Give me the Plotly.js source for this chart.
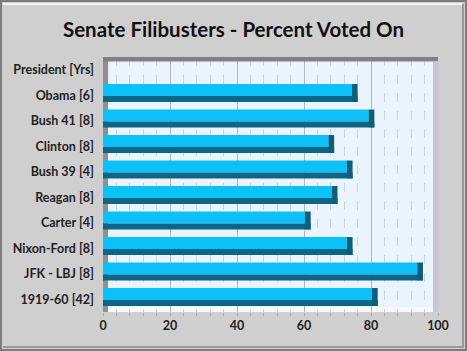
<!DOCTYPE html>
<html><head><meta charset="utf-8">
<script src="https://cdn.plot.ly/plotly-3.0.1.min.js"></script>
<style>html,body{margin:0;padding:0;background:#cfcfcf}#c{width:467px;height:351px}</style>
</head><body><div id="c"></div>
<script>
// categories listed bottom to top
const categories = ["1919-60 [42]","JFK - LBJ [8]","Nixon-Ford [8]","Carter [4]","Reagan [8]","Bush 39 [4]","Clinton [8]","Bush 41 [8]","Obama [6]","President [Yrs]"];
const percentVoted = [82, 95.5, 74.5, 62, 70, 74.5, 69, 81, 76, null];
const xTicks = [0, 20, 40, 60, 80, 100];

const cap = 1.7;
const lightX = percentVoted.map(v => v == null ? null : v - cap);
const capBase = percentVoted.map(v => v == null ? null : v - cap);
const capX = percentVoted.map(v => v == null ? null : cap);

const traces = [
  {type:'bar', orientation:'h', y:categories, x:lightX, offset:-0.03, width:0.47,
   marker:{color:'#0bc1f8', line:{width:0}}, hoverinfo:'skip'},
  {type:'bar', orientation:'h', y:categories, x:percentVoted, offset:-0.26, width:0.23,
   marker:{color:'#0d6685', line:{width:0}}, hoverinfo:'skip'},
  {type:'bar', orientation:'h', y:categories, x:capX, base:capBase, offset:-0.26, width:0.70,
   marker:{color:'#0b5e7c', line:{width:0}}, hoverinfo:'skip'}
];

const px = v => (v - 103) / 335;      // pixel x -> paper
const py = v => (312 - v) / 255;      // pixel y -> paper

const layout = {
  width:467, height:351,
  margin:{l:103, r:29, t:57, b:39},
  paper_bgcolor:'#cfcfcf', plot_bgcolor:'#eaf4fe',
  barmode:'overlay', showlegend:false,
  title:{text:'Senate Filibusters - Percent Voted On', x:0.5, xanchor:'center', y:0.915, yanchor:'middle',
         font:{family:'Lato, "Open Sans", sans-serif', size:20.5, color:'#111', weight:700}},
  xaxis:{range:[0,100], tickvals:xTicks, ticktext:xTicks.map(String), showgrid:true, gridcolor:'#b4b8be', gridwidth:1,
         zeroline:false, showline:false, ticks:'',
         minor:{dtick:4, showgrid:true, gridcolor:'#cdd3da', griddash:'dash', ticks:'outside', ticklen:3, tickcolor:'#b0b0b0'},
         tickfont:{family:'Lato, "Open Sans", sans-serif', size:12.5, color:'#222', weight:700}, ticklabelstandoff:4},
  yaxis:{type:'category', categoryorder:'array', categoryarray:categories, range:[-0.5,9.5],
         showgrid:false, zeroline:false, showline:false, ticks:'',
         tickfont:{family:'Lato, "Open Sans", sans-serif', size:12.5, color:'#222', weight:700}, ticklabelstandoff:8},
  shapes:[
    // side walls and floor of the 3D box
    {type:'rect', xref:'paper', yref:'paper', x0:0, x1:0.015, y0:0, y1:1, fillcolor:'#8e9093', line:{width:0}, layer:'below'},
    {type:'rect', xref:'paper', yref:'paper', x0:0, x1:1, y0:0.982, y1:1, fillcolor:'#7f8184', line:{width:0}, layer:'above'},
    {type:'rect', xref:'paper', yref:'paper', x0:0.985, x1:1, y0:0, y1:0.982, fillcolor:'#c2c9d2', line:{width:0}, layer:'above'},
    {type:'rect', xref:'paper', yref:'paper', x0:0.015, x1:0.985, y0:0, y1:0.02, fillcolor:'#f6faff', line:{width:0}, layer:'below'},
    // outer frame
    {type:'rect', xref:'paper', yref:'paper', x0:px(1), x1:px(466), y0:py(350), y1:py(1), fillcolor:'rgba(0,0,0,0)', line:{color:'#7c7c7c', width:2}, layer:'below'},
    {type:'line', xref:'paper', yref:'paper', x0:px(3), x1:px(462), y0:py(4), y1:py(4), line:{color:'#f4f4f4', width:2}, layer:'below'},
    {type:'line', xref:'paper', yref:'paper', x0:px(463), x1:px(463), y0:py(4), y1:py(348), line:{color:'#9a9a9a', width:2}, layer:'below'},
    {type:'line', xref:'paper', yref:'paper', x0:px(3), x1:px(464), y0:py(347), y1:py(347), line:{color:'#9a9a9a', width:2}, layer:'below'}
  ]
};
Plotly.newPlot('c', traces, layout, {staticPlot:true, displayModeBar:false});
</script></body></html>
